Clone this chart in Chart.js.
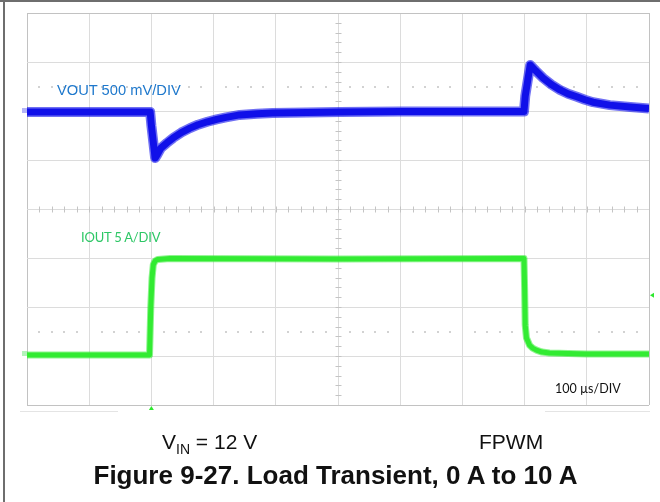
<!DOCTYPE html>
<html>
<head>
<meta charset="utf-8">
<script src="https://cdn.jsdelivr.net/npm/chart.js@4.4.0/dist/chart.umd.min.js"></script>
<style>
  body { margin: 0; background: #fff; }
  #wrap { position: relative; width: 660px; height: 502px; overflow: hidden; }
  #scope { position: absolute; left: 0; top: 0; }
  .lbl { position: absolute; white-space: nowrap; line-height: 1; }
  .vout { left: 57px; top: 82px; font: 14.7px "Liberation Sans", Arial, sans-serif; color: #1e78cc; }
  .iout { left: 81px; top: 229px; font: 13px Lato, "Open Sans", sans-serif; color: #2ec766; letter-spacing: -0.2px; }
  .tdiv { left: 555px; top: 381px; font: 12.5px Lato, "Open Sans", sans-serif; color: #111; }
  .cond { top: 430px; font: 21px "Liberation Sans", Arial, sans-serif; color: #111; }
  .cond sub { font-size: 14px; vertical-align: -5px; line-height: 0; }
  .title { left: 0; width: 671px; text-align: center; top: 460px; font: bold 26px "Liberation Sans", Arial, sans-serif; color: #111; }
</style>
</head>
<body>
<div id="wrap">
  <canvas id="scope" width="660" height="502"></canvas>
  <div class="lbl vout">VOUT 500 mV/DIV</div>
  <div class="lbl iout">IOUT 5 A/DIV</div>
  <div class="lbl tdiv">100 µs/DIV</div>
  <div class="lbl cond" style="left:162px">V<sub>IN</sub> = 12 V</div>
  <div class="lbl cond" style="left:479px">FPWM</div>
  <div class="lbl title">Figure 9-27. Load Transient, 0 A to 10 A</div>
</div>
<script>
// Scope screen: 10 x 100 us horizontally, 8 divisions vertically
const timeRangeUs = [0, 1000];
const divRange = [-4, 4];
const usPerDiv = 100;

// VOUT (AC view): deviation from the set point, 500 mV/div
const voutTimeUs = [0, 198, 200, 206, 209, 215, 225, 235, 248, 262, 275, 290, 305, 320, 342, 370, 395, 450, 503, 600, 700, 799, 801, 809, 818, 830, 843, 857, 870, 884, 897, 910, 937, 970, 1000];
const voutDevMv = [0, 0, -140, -470, -440, -370, -315, -265, -210, -165, -130, -100, -75, -55, -30, -18, -10, -5, 0, 5, 5, 5, 160, 480, 420, 345, 280, 225, 185, 155, 125, 100, 70, 50, 35];
const voutMvPerDiv = 500;
const voutOffsetDiv = 1.98;

// IOUT: 0 A -> 10 A -> 0 A step, 5 A/div
const ioutTimeUs = [0, 197, 199, 201, 203, 206, 210, 230, 500, 799, 800, 801, 803, 808, 813, 819, 828, 840, 900, 1000];
const ioutAmps = [0, 0, 4.9, 7.85, 9.2, 9.6, 9.75, 9.85, 9.8, 9.85, 6.9, 3.05, 1.75, 1.0, 0.7, 0.5, 0.3, 0.2, 0.1, 0.1];
const ioutAPerDiv = 5;
const ioutOffsetDiv = -2.98;

const triggerTimeUs = 200;
const triggerLevelA = 6.1;

const toPoints = (ts, vs, perDiv, off) => ts.map((t, i) => ({ x: t, y: vs[i] / perDiv + off }));
const voutPts = toPoints(voutTimeUs, voutDevMv, voutMvPerDiv, voutOffsetDiv);
const ioutPts = toPoints(ioutTimeUs, ioutAmps, ioutAPerDiv, ioutOffsetDiv);

function trace(data, color, width) {
    return {
        data,
        borderColor: color,
        borderWidth: width,
        pointRadius: 0,
        fill: false,
        tension: 0,
        borderJoinStyle: 'round'
    };
}

const gridColor = ctx => (ctx.index === 0 || ctx.index === ctx.chart.scales[ctx.scale.id].ticks.length - 1) ? '#c2c2c2' : '#dcdcdc';

const scopeMarks = {
    id: 'scopeMarks',
    beforeDatasetsDraw(chart) {
        const { ctx, scales: { x, y } } = chart;
        ctx.save();
        // dotted reference rows
        ctx.fillStyle = '#d2d2d2';
        for (const row of [2.5, -2.5]) {
            const py = Math.round(y.getPixelForValue(row));
            for (let t = 20; t < 1000; t += 20) {
                if (t % usPerDiv === 0) continue;
                ctx.fillRect(Math.round(x.getPixelForValue(t)) - 1, py - 1, 2, 2);
            }
        }
        // minor ticks on the centre lines
        ctx.strokeStyle = '#c4c4c4';
        ctx.lineWidth = 1;
        ctx.beginPath();
        const cy = Math.round(y.getPixelForValue(0)) + 0.5;
        for (let t = 20; t < 1000; t += 20) {
            const px = Math.round(x.getPixelForValue(t)) + 0.5;
            ctx.moveTo(px, cy - 3);
            ctx.lineTo(px, cy + 3);
        }
        const cx = Math.round(x.getPixelForValue(500)) + 0.5;
        for (let d = -3.8; d < 3.9; d += 0.2) {
            const py = Math.round(y.getPixelForValue(d)) + 0.5;
            ctx.moveTo(cx - 3, py);
            ctx.lineTo(cx + 3, py);
        }
        ctx.stroke();
        ctx.restore();
    },
    afterDraw(chart) {
        const { ctx, chartArea: a, scales: { x, y } } = chart;
        ctx.save();
        // page frame
        ctx.fillStyle = '#6e6e6e';
        ctx.fillRect(0, 0, chart.width, 2);
        ctx.fillRect(3, 0, 2, chart.height);
        // faint strips under the screen
        ctx.fillStyle = '#e4e4e4';
        ctx.fillRect(a.left - 7, a.bottom + 6, 98, 1);
        ctx.fillRect(545, a.bottom + 6, a.right - 545 + 1, 1);
        // channel ground markers
        ctx.fillStyle = 'rgba(40,40,230,0.35)';
        ctx.fillRect(a.left - 5, Math.round(y.getPixelForValue(voutOffsetDiv)) - 4, 5, 5);
        ctx.fillStyle = 'rgba(40,220,60,0.35)';
        ctx.fillRect(a.left - 5, Math.round(y.getPixelForValue(ioutOffsetDiv)) - 4, 5, 5);
        // trigger position and level
        ctx.fillStyle = '#2ee82e';
        const tx = x.getPixelForValue(triggerTimeUs);
        ctx.beginPath();
        ctx.moveTo(tx - 2.5, a.bottom + 5);
        ctx.lineTo(tx + 2.5, a.bottom + 5);
        ctx.lineTo(tx, a.bottom + 1);
        ctx.fill();
        const ty = y.getPixelForValue(triggerLevelA / ioutAPerDiv + ioutOffsetDiv);
        ctx.beginPath();
        ctx.moveTo(a.right + 1, ty);
        ctx.lineTo(a.right + 5, ty - 2.5);
        ctx.lineTo(a.right + 5, ty + 2.5);
        ctx.fill();
        ctx.restore();
    }
};

new Chart(document.getElementById('scope'), {
    type: 'line',
    data: {
        datasets: [
            trace(ioutPts, 'rgba(50,235,50,0.55)', 7),
            trace(ioutPts, '#33ea33', 5),
            trace(voutPts, 'rgba(16,16,235,0.6)', 10),
            trace(voutPts, '#1010e6', 7)
        ]
    },
    options: {
        responsive: false,
        animation: false,
        layout: { padding: { left: 27, right: 11, top: 13, bottom: 97 } },
        scales: {
            x: {
                type: 'linear',
                min: timeRangeUs[0],
                max: timeRangeUs[1],
                ticks: { display: false, stepSize: usPerDiv },
                grid: { color: gridColor, drawTicks: false },
                border: { display: false },
                afterFit: s => { s.height = 0; }
            },
            y: {
                min: divRange[0],
                max: divRange[1],
                ticks: { display: false, stepSize: 1 },
                grid: { color: gridColor, drawTicks: false },
                border: { display: false },
                afterFit: s => { s.width = 0; }
            }
        },
        plugins: {
            legend: { display: false },
            tooltip: { enabled: false }
        }
    },
    plugins: [scopeMarks]
});
</script>
</body>
</html>
